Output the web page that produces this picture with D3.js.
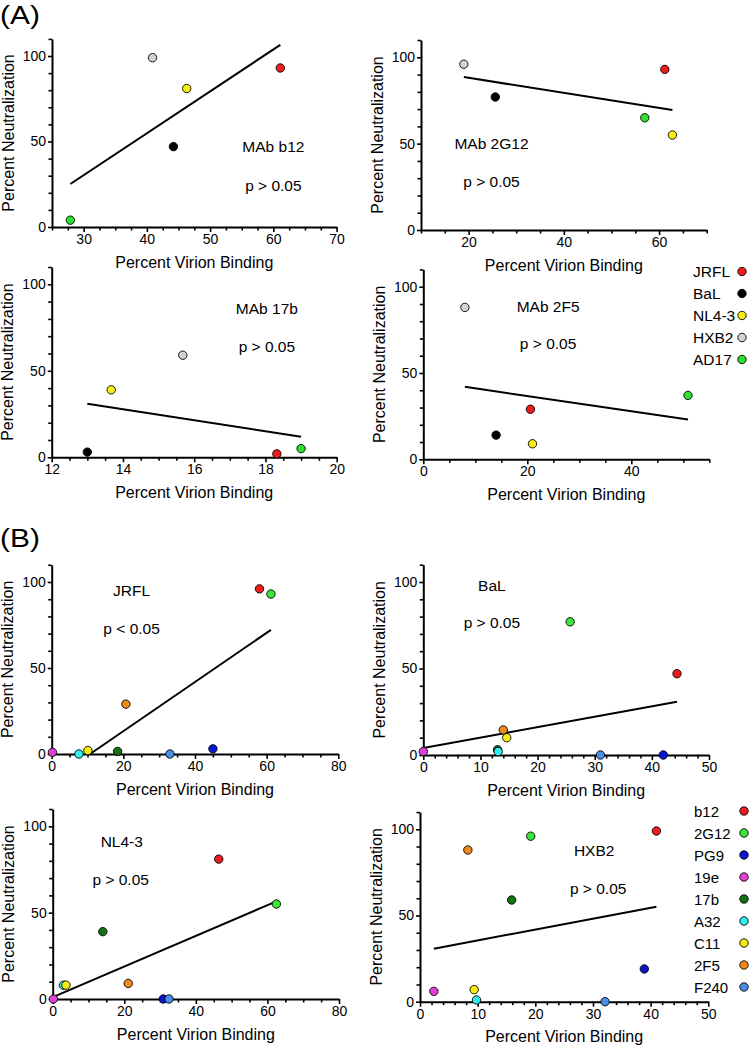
<!DOCTYPE html>
<html><head><meta charset="utf-8">
<script src="https://cdn.jsdelivr.net/npm/d3@7"></script>
<style>
html,body{margin:0;padding:0;background:#fff;}
svg text{font-family:"Liberation Sans",Arial,Helvetica,sans-serif;fill:#000;}
</style></head>
<body><svg id="chart" width="750" height="1047"></svg>
<script>
// ---------- DATA ----------
const strainsA = ["JRFL", "BaL", "NL4-3", "HXB2", "AD17"];
const strainColorsA = ["#ee1c1c", "#000000", "#f7ee10", "#d2d2d2", "#2ee02e"];
const mabsA = ["b12", "2G12", "17b", "2F5"];
// Percent virion binding / percent neutralization per MAb, in strain order
const b12Binding  = [61.1, 44.2, 46.3, 40.9, 27.9];
const b12Neut     = [93, 47, 81, 99, 4];
const g2G12Binding = [61.2, 25.6, 62.8, 19.0, 57.0];
const g2G12Neut    = [93, 77, 55, 96, 65];
const m17bBinding = [18.32, 13.0, 13.67, 15.68, 19.0];
const m17bNeut    = [2, 3, 39, 59, 5];
const f2F5Binding = [20.6, 14.0, 21.0, 8.0, 50.9];
const f2F5Neut    = [29, 14, 9, 88, 37];

const mabsB = ["b12", "2G12", "PG9", "19e", "17b", "A32", "C11", "2F5", "F240"];
const mabColorsB = ["#ee1c1c", "#3ae63a", "#0a14d2", "#e040d6", "#137313", "#2ef0f0", "#f7ee10", "#f08a1e", "#4a8ee6"];
const jrflBinding = [58.0, 61.2, 45.0, 0.2, 18.4, 7.6, 10.1, 20.7, 33.0];
const jrflNeut    = [96, 93, 3, 1, 1.5, 0, 2, 29, 0];
const balBinding  = [44.4, 25.7, 42.0, 0.0, 13.0, 13.1, 14.6, 14.0, 31.0];
const balNeut     = [47, 77, 0, 2, 3, 2, 10, 14.5, 0];
const nl43Binding = [46.4, 62.5, 30.9, 0.2, 14.0, 3.0, 3.7, 21.1, 32.5];
const nl43Neut    = [81, 55, 0, 0, 39, 8, 8, 9, 0];
const hxb2Binding = [41.0, 19.2, 38.9, 2.4, 15.9, 9.8, 9.4, 8.3, 32.1];
const hxb2Neut    = [99, 96, 19, 6, 59, 1, 7, 88, 0];

const yTicksMajor = [0, 50, 100];
const xLabel = "Percent Virion Binding";
const yLabel = "Percent Neutralization";

// ---------- LAYOUT ----------
const panels = [
  {bind: b12Binding, neut: b12Neut, colors: strainColorsA, xDom: [25, 70], xMaj: 10, xMin: 2.5,
   px: [52, 336.6], py: [227, 56], name: "MAb b12", p: "p > 0.05", nPos: [60, 47], pPos: [60, 24.5]},
  {bind: g2G12Binding, neut: g2G12Neut, colors: strainColorsA, xDom: [10, 70], xMaj: 20, xMin: 5, xStart: 20,
   px: [421, 706.7], py: [230, 57.3], name: "MAb 2G12", p: "p > 0.05", nPos: [24.8, 49.8], pPos: [24.8, 28]},
  {bind: m17bBinding, neut: m17bNeut, colors: strainColorsA, xDom: [12, 20], xMaj: 2, xMin: 0.5,
   px: [51.7, 336.7], py: [457.3, 284.3], name: "MAb 17b", p: "p > 0.05", nPos: [18.04, 86.1], pPos: [18.04, 64.3]},
  {bind: f2F5Binding, neut: f2F5Neut, colors: strainColorsA, xDom: [0, 55], xMaj: 20, xMin: 5,
   px: [423.3, 709.3], py: [459.3, 286.7], name: "MAb 2F5", p: "p > 0.05", nPos: [24.0, 88.4], pPos: [24.0, 67.2]},
  {bind: jrflBinding, neut: jrflNeut, colors: mabColorsB, xDom: [0, 80], xMaj: 20, xMin: 5,
   px: [51.7, 338.3], py: [754, 582], name: "JRFL", p: "p < 0.05", nPos: [22.3, 95.3], pPos: [22.3, 73.1]},
  {bind: balBinding, neut: balNeut, colors: mabColorsB, xDom: [0, 50], xMaj: 10, xMin: 2,
   px: [423.3, 709], py: [755, 582], name: "BaL", p: "p > 0.05", nPos: [12, 97.9], pPos: [12, 76.5]},
  {bind: nl43Binding, neut: nl43Neut, colors: mabColorsB, xDom: [0, 80], xMaj: 20, xMin: 5,
   px: [52.7, 339], py: [999, 826.3], name: "NL4-3", p: "p > 0.05", nPos: [19.3, 91.1], pPos: [19.0, 69.3]},
  {bind: hxb2Binding, neut: hxb2Neut, colors: mabColorsB, xDom: [0, 50], xMaj: 10, xMin: 2,
   px: [420, 708.3], py: [1001.7, 829.3], name: "HXB2", p: "p > 0.05", nPos: [30.2, 87.6], pPos: [30.9, 65.8]}
];

const svg = d3.select("#chart");

function range(a, b, s) { const out = []; for (let v = a; v <= b + 1e-9; v += s) out.push(+v.toFixed(4)); return out; }

panels.forEach(P => {
  const x = d3.scaleLinear().domain(P.xDom).range(P.px);
  const y = d3.scaleLinear().domain([0, 100]).range(P.py);
  const yTop = y(110);
  const g = svg.append("g");

  const majStart = P.xStart !== undefined ? P.xStart : Math.ceil(P.xDom[0] / P.xMaj) * P.xMaj;
  const xMajor = range(majStart, P.xDom[1], P.xMaj).filter(v => v >= P.xDom[0]);
  const xMinor = range(P.xDom[0], P.xDom[1], P.xMin).filter(v => !xMajor.some(m => Math.abs(m - v) < 1e-6));
  const y0 = P.py[0];

  const gxMin = g.append("g").attr("transform", `translate(0,${y0})`)
    .call(d3.axisBottom(x).tickValues(xMinor).tickSize(3.5).tickSizeOuter(0).tickFormat(""));
  gxMin.select(".domain").remove();
  const gx = g.append("g").attr("transform", `translate(0,${y0})`)
    .call(d3.axisBottom(x).tickValues(xMajor).tickSize(5).tickSizeOuter(0).tickPadding(2));
  gx.select(".domain").attr("stroke-width", 2);
  gx.selectAll("text").attr("font-size", 14).attr("font-family", "Liberation Sans, Arial, sans-serif");

  const yAx = d3.scaleLinear().domain([0, 110]).range([y0, yTop]);
  const yMinor = range(0, 110, 10).filter(v => !yTicksMajor.includes(v));
  const gyMin = g.append("g").attr("transform", `translate(${P.px[0]},0)`)
    .call(d3.axisLeft(yAx).tickValues(yMinor).tickSize(3.5).tickSizeOuter(0).tickFormat(""));
  gyMin.select(".domain").remove();
  const gy = g.append("g").attr("transform", `translate(${P.px[0]},0)`)
    .call(d3.axisLeft(yAx).tickValues(yTicksMajor).tickSize(4).tickSizeOuter(0).tickPadding(2));
  gy.select(".domain").attr("stroke-width", 2);
  gy.selectAll("text").attr("font-size", 14).attr("font-family", "Liberation Sans, Arial, sans-serif");
  g.selectAll(".tick line").attr("stroke-width", 1.6);

  // axis titles
  g.append("text").attr("x", (P.px[0] + P.px[1]) / 2).attr("y", y0 + 35)
    .attr("text-anchor", "middle").attr("dominant-baseline", "central").attr("font-size", 16).text(xLabel);
  g.append("text").attr("transform", `translate(${P.px[0] - 44},${(y0 + yTop) / 2}) rotate(-90)`)
    .attr("text-anchor", "middle").attr("dominant-baseline", "central").attr("font-size", 16).text(yLabel);

  // regression line (least squares from the data), clipped at y >= 0
  const pts = P.bind.map((b, i) => [b, P.neut[i]]);
  const mx = d3.mean(P.bind), my = d3.mean(P.neut);
  const sxy = d3.sum(pts, d => (d[0] - mx) * (d[1] - my));
  const sxx = d3.sum(pts, d => (d[0] - mx) ** 2);
  const slope = sxy / sxx, icpt = my - slope * mx;
  let xa = d3.min(P.bind), xb = d3.max(P.bind);
  if (slope > 0 && slope * xa + icpt < 0) xa = -icpt / slope;
  g.append("path")
    .attr("d", d3.line()([[x(xa), y(slope * xa + icpt)], [x(xb), y(slope * xb + icpt)]]))
    .attr("stroke", "#000").attr("stroke-width", 2).attr("fill", "none");

  // points
  g.selectAll("circle.pt").data(pts).join("circle").attr("class", "pt")
    .attr("cx", d => x(d[0])).attr("cy", d => y(d[1])).attr("r", 4.2)
    .attr("fill", (d, i) => P.colors[i]).attr("stroke", "#000").attr("stroke-width", 0.9);

  // annotations
  g.append("text").attr("x", x(P.nPos[0])).attr("y", y(P.nPos[1]))
    .attr("text-anchor", "middle").attr("dominant-baseline", "central").attr("font-size", 15.5).text(P.name);
  g.append("text").attr("x", x(P.pPos[0])).attr("y", y(P.pPos[1]))
    .attr("text-anchor", "middle").attr("dominant-baseline", "central").attr("font-size", 15.5).text(P.p);
});

// section letters
svg.append("text").attr("transform", "translate(0,24) scale(1.15,1)").attr("font-size", 26).text("(A)");
svg.append("text").attr("transform", "translate(0,547) scale(1.15,1)").attr("font-size", 26).text("(B)");

// legends
function legend(names, colors, x0, yStart, step, dotX, fs) {
  const lg = svg.append("g");
  names.forEach((n, i) => {
    const yy = yStart + i * step;
    lg.append("text").attr("x", x0).attr("y", yy).attr("dominant-baseline", "central").attr("font-size", fs).text(n);
    lg.append("circle").attr("cx", dotX).attr("cy", yy).attr("r", 4.2)
      .attr("fill", colors[i]).attr("stroke", "#000").attr("stroke-width", 0.9);
  });
}
legend(strainsA, strainColorsA, 693, 271.5, 22, 742, 15.5);
legend(mabsB, mabColorsB, 694, 811, 22, 744, 15);
</script></body></html>
